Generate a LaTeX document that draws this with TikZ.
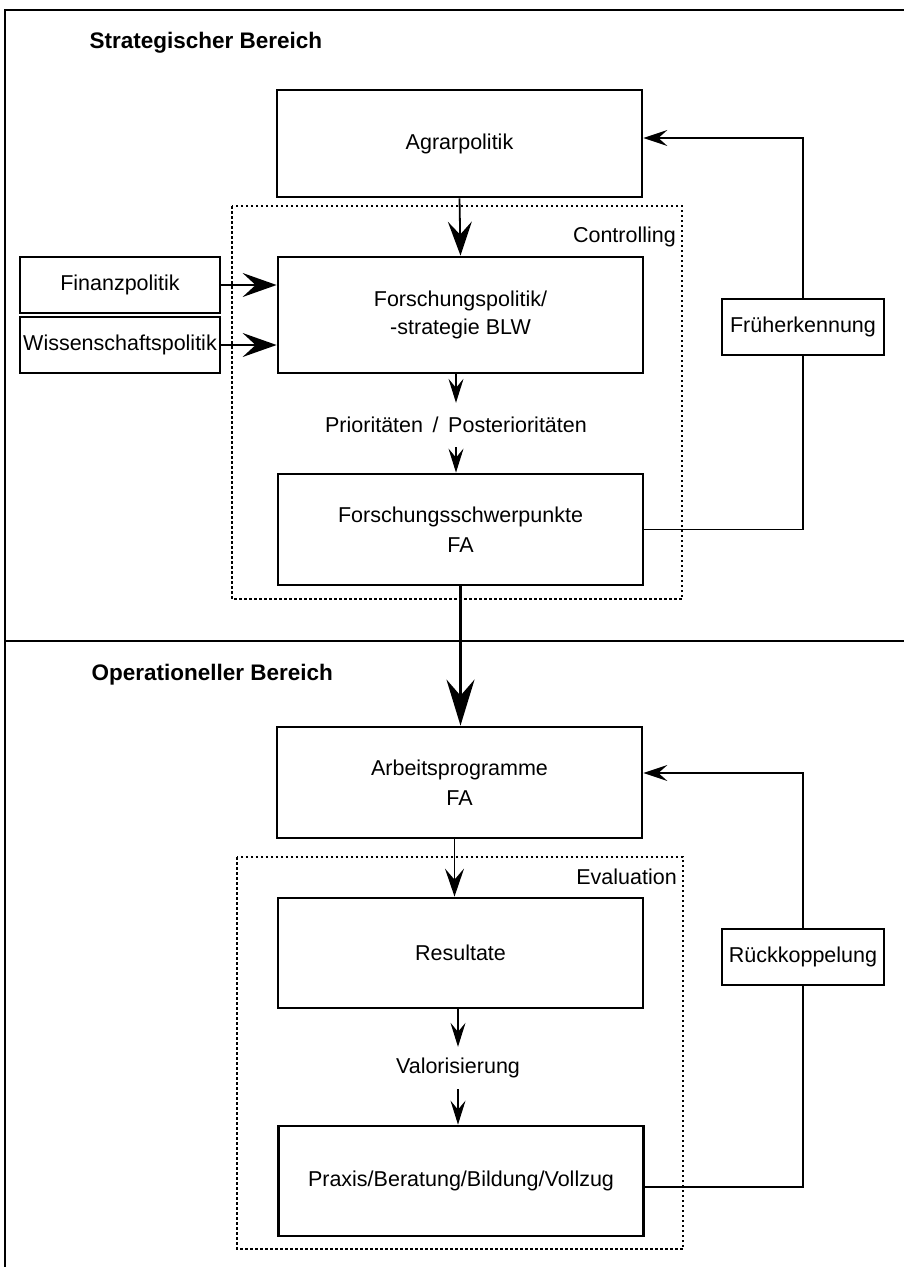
\documentclass[tikz,border=0pt]{standalone}
\usepackage{fontspec}
\setmainfont{Liberation Sans}
\usetikzlibrary{arrows.meta}
\begin{document}
\begin{tikzpicture}[x=1pt,y=-1pt,
  txt/.style={font=\fontsize{21.5}{28}\selectfont},
  head/.style={anchor=west,font=\bfseries\fontsize{22.5}{27}\selectfont},
  boxnode/.style={draw, line width=2.8pt, inner sep=0pt, align=center, txt, minimum width=365pt},
  sidebox/.style={draw, line width=2.8pt, inner sep=0pt, align=center, txt, minimum width=200pt, minimum height=56pt},
  fbbox/.style={draw, line width=1.3pt, inner sep=0pt, align=center, txt, minimum width=162pt, minimum height=56pt, fill=white},
  lbl/.style={inner sep=0pt, txt},
  dotbox/.style={line width=2.5pt, dash pattern=on 2.5pt off 2.5pt},
  frame/.style={line width=2.5pt},
  bigarrow/.style={line width=1.8pt, -{Stealth[length=34pt,width=24pt,inset=13pt]}},
  thickarrow/.style={line width=3.2pt, -{Stealth[length=46pt,width=28pt,inset=16pt]}},
  medarrow/.style={line width=1.5pt, -{Stealth[length=28pt,width=19pt,inset=11pt]}},
  smallarrow/.style={line width=1.1pt, -{Stealth[length=24pt,width=15pt,inset=9pt]}},
  fbline/.style={line width=1.3pt},
  fbarrow/.style={line width=1.3pt, -{Stealth[length=24pt,width=16pt,inset=9pt]}}
]
\useasboundingbox (0,0) rectangle (904,1270);

% outer frame and divider
\draw[frame] (904,10) -- (5,10) -- (5,1267);
\draw[frame] (5,641) -- (904,641);

% headings
\node[head] (h1) at (86,43) {Strategischer Bereich};
\node[head] (h2) at (88,675) {Operationeller Bereich};

% dotted group boxes
\draw[dotbox] (232,206) rectangle (682,599);
\node[lbl, anchor=east] (ctl) at (676,237) {Controlling};
\draw[dotbox] (237,857) rectangle (683,1249);
\node[lbl, anchor=east] (evl) at (677,877) {Evaluation};

% strategic boxes
\node[boxnode, minimum height=107pt] (agrar) at (459.5,143.5) {Agrarpolitik};
\node[boxnode, minimum height=116pt] (fpol) at (460.5,315) {Forschungspolitik/\\-strategie BLW};
\node[sidebox] (finanz) at (120,285) {Finanzpolitik};
\node[sidebox] (wiss) at (120,345) {Wissenschaftspolitik};
\node[lbl, minimum height=44pt] (prio) at (456,425) {Priorit\"aten \,/\, Posteriorit\"aten};
\node[boxnode, minimum height=111pt] (fsp) at (460.5,529.5) {Forschungsschwerpunkte\\[2pt]FA};
\node[fbbox] (frueh) at (803,327) {Fr\"uherkennung};

% operational boxes
\node[boxnode, minimum height=111pt] (arbeit) at (459.5,782.5) {Arbeitsprogramme\\[2pt]FA};
\node[boxnode, minimum height=110pt] (result) at (460.5,953) {Resultate};
\node[lbl, minimum height=42pt] (valor) at (458,1068) {Valorisierung};
\node[boxnode, minimum height=110pt] (praxis) at (461,1181) {Praxis/Beratung/Bildung/Vollzug};
\node[fbbox] (rueck) at (803,957) {R\"uckkoppelung};

% connectors strategic
\draw[bigarrow] (agrar.south) -- (fpol.north);
\draw[bigarrow] (finanz.east) -- (finanz.east -| fpol.west);
\draw[bigarrow] (wiss.east) -- (wiss.east -| fpol.west);
\draw[smallarrow] (fpol.south -| prio.north) -- (prio.north);
\draw[smallarrow] (prio.south) -- (prio.south |- fsp.north);
\draw[fbline] (fsp.east) -| (frueh.south);
\draw[fbarrow] (frueh.north) |- ([yshift=5.5pt]agrar.east);

% connectors operational
\draw[thickarrow] (fsp.south) -- (arbeit.north -| fsp.south);
\draw[medarrow] ([xshift=-5pt]arbeit.south) -- ([xshift=-6pt]result.north);
\draw[smallarrow] (result.south -| valor.north) -- (valor.north);
\draw[smallarrow] (valor.south) -- (valor.south |- praxis.north);
\draw[fbline] ([yshift=-6pt]praxis.east) -| (rueck.south);
\draw[fbarrow] (rueck.north) |- ([yshift=9.5pt]arbeit.east);
\end{tikzpicture}
\end{document}
